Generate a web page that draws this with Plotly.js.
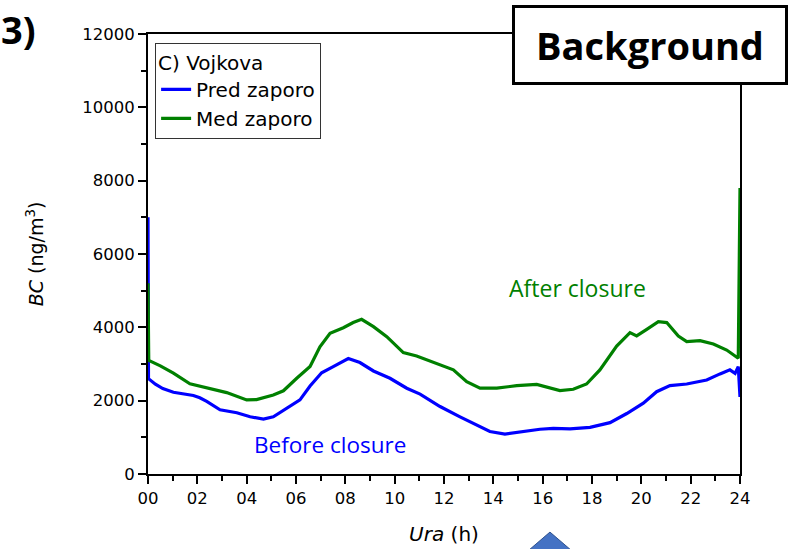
<!DOCTYPE html>
<html>
<head>
<meta charset="utf-8">
<script src="https://cdn.plot.ly/plotly-3.0.1.min.js"></script>
<style>html,body{margin:0;padding:0;background:#fff;}#chart{width:792px;height:549px;}</style>
</head>
<body>
<div id="chart"></div>
<script>
// Hours of day (h) and BC concentrations (ng/m3)
const predHours = [0, 0.02, 0.3, 0.6, 1.03, 1.5, 1.84, 2.1, 2.38, 2.92, 3.6, 4.14, 4.68, 5.08, 5.62, 6.16, 6.57, 7.04, 7.51, 8.12, 8.59, 9.14, 9.81, 10.49, 11.03, 11.84, 12.65, 13.32, 13.86, 14.47, 15.08, 15.89, 16.43, 17.11, 17.92, 18.73, 19.41, 20.08, 20.62, 21.16, 21.84, 22.65, 23.19, 23.59, 23.8, 23.93, 24];
const predBC = [7000, 2600, 2450, 2330, 2230, 2180, 2140, 2080, 1980, 1750, 1670, 1560, 1500, 1560, 1790, 2020, 2400, 2760, 2930, 3150, 3040, 2810, 2610, 2340, 2180, 1840, 1560, 1340, 1160, 1090, 1150, 1220, 1245, 1230, 1270, 1400, 1650, 1930, 2245, 2410, 2455, 2565, 2730, 2840, 2745, 2930, 2100];

const medHours = [0, 0.01, 0.03, 0.5, 1.03, 1.7, 2.38, 3.19, 4.0, 4.4, 5.08, 5.49, 6.03, 6.57, 6.97, 7.38, 7.92, 8.32, 8.66, 9.14, 9.68, 10.35, 10.89, 11.43, 11.84, 12.38, 12.92, 13.46, 14.14, 14.95, 15.76, 16.16, 16.7, 17.24, 17.78, 18.32, 19.0, 19.54, 19.81, 20.22, 20.69, 21.03, 21.5, 21.84, 22.38, 22.92, 23.46, 23.93, 24];
const medBC = [5200, 3450, 3100, 2950, 2750, 2460, 2360, 2220, 2020, 2030, 2155, 2270, 2610, 2930, 3470, 3840, 3990, 4130, 4220, 4020, 3745, 3310, 3220, 3090, 2970, 2840, 2520, 2340, 2340, 2410, 2445, 2380, 2275, 2310, 2455, 2840, 3490, 3855, 3765, 3945, 4155, 4130, 3765, 3610, 3635, 3545, 3380, 3155, 7800];

const seriesNames = ["Pred zaporo", "Med zaporo"];
const legendTitle = "C) Vojkova";

const xTickVals = [0, 2, 4, 6, 8, 10, 12, 14, 16, 18, 20, 22, 24];
const xTickText = ["00", "02", "04", "06", "08", "10", "12", "14", "16", "18", "20", "22", "24"];
const yTickVals = [0, 2000, 4000, 6000, 8000, 10000, 12000];
const yTickText = ["0", "2000", "4000", "6000", "8000", "10000", "12000"];

const traces = [
  {x: predHours, y: predBC, name: seriesNames[0], type: "scatter", mode: "lines",
   line: {color: "#0000FF", width: 3.2}},
  {x: medHours, y: medBC, name: seriesNames[1], type: "scatter", mode: "lines",
   line: {color: "#008000", width: 3.2}}
];

const sansFam = "DejaVu Sans, Arial, sans-serif";
const axisFont = {family: sansFam, size: 16.5, color: "#000"};

const layout = {
  width: 792, height: 549,
  margin: {l: 148, r: 52, t: 34, b: 75},
  paper_bgcolor: "#fff", plot_bgcolor: "#fff",
  showlegend: true,
  legend: {
    x: 0.012, y: 0.98, xanchor: "left", yanchor: "top",
    bgcolor: "#fff", bordercolor: "#333", borderwidth: 1,
    font: {family: sansFam, size: 20, color: "#000"},
    title: {text: legendTitle, font: {family: sansFam, size: 20, color: "#000"}},
    tracegroupgap: 0
  },
  xaxis: {
    range: [0, 24], tickmode: "array", tickvals: xTickVals, ticktext: xTickText,
    ticks: "outside", ticklen: 8, tickwidth: 2, tickcolor: "#000",
    minor: {dtick: 1, tick0: 0, ticks: "outside", ticklen: 5, tickwidth: 2, tickcolor: "#000"},
    showline: true, linecolor: "#000", linewidth: 2, mirror: true,
    showgrid: false, zeroline: false, tickfont: axisFont,
    title: {text: "<i>Ura</i> (h)", font: {family: sansFam, size: 20, color: "#000"}, standoff: 20}
  },
  yaxis: {
    range: [0, 12000], tickmode: "array", tickvals: yTickVals, ticktext: yTickText,
    ticks: "outside", ticklen: 8, tickwidth: 2, tickcolor: "#000",
    minor: {dtick: 1000, tick0: 0, ticks: "outside", ticklen: 5, tickwidth: 2, tickcolor: "#000"},
    showline: true, linecolor: "#000", linewidth: 2, mirror: true,
    showgrid: false, zeroline: false, tickfont: axisFont,
    title: {text: "<i>BC</i> (ng/m<sup>3</sup>)", font: {family: sansFam, size: 19, color: "#000"}, standoff: 34}
  },
  annotations: [
    {text: "<b>3)</b>", xref: "paper", yref: "paper", x: -0.218, y: 1.012, xanchor: "center", yanchor: "middle",
     showarrow: false, font: {family: "Open Sans, Lato, sans-serif", size: 38, color: "#000"}},
    {text: "<b>Background</b>", xref: "paper", yref: "paper", x: 0.848, y: 0.975, xanchor: "center", yanchor: "middle",
     showarrow: false, bgcolor: "#fff", bordercolor: "#000", borderwidth: 3, borderpad: 0, width: 270, height: 74,
     font: {family: "Open Sans, Lato, sans-serif", size: 38, color: "#000"}},
    {text: "After closure", xref: "paper", yref: "paper", x: 0.726, y: 0.423, xanchor: "center", yanchor: "middle",
     showarrow: false, font: {family: "Open Sans, Lato, sans-serif", size: 23, color: "#008000"}},
    {text: "Before closure", xref: "paper", yref: "paper", x: 0.307, y: 0.066, xanchor: "center", yanchor: "middle",
     showarrow: false, font: {family: "Open Sans, Lato, sans-serif", size: 22.5, color: "#0000FF"}}
  ],
  shapes: [
    {type: "path", xref: "paper", yref: "paper", layer: "above",
     path: "M 0.679 -0.132 L 0.620 -0.20 L 0.738 -0.20 Z",
     fillcolor: "#4472C4", line: {color: "#2F528F", width: 1}}
  ]
};

Plotly.newPlot("chart", traces, layout, {displayModeBar: false, staticPlot: true});
</script>
</body>
</html>
